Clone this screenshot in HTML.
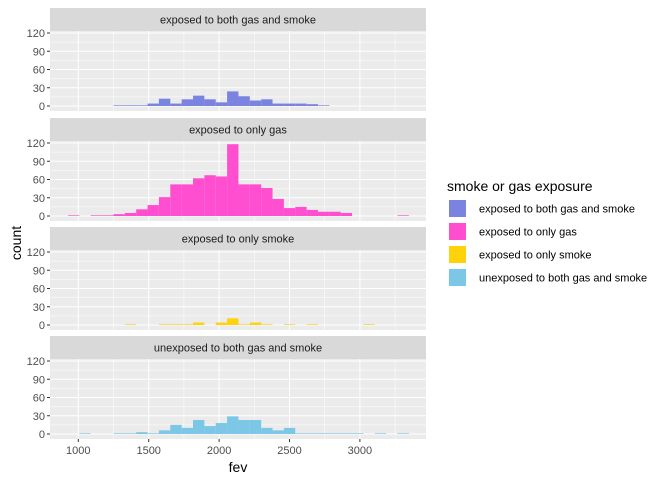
<!DOCTYPE html>
<html><head><meta charset="utf-8"><style>
body{margin:0;background:#fff;font-family:"Liberation Sans",sans-serif}
svg text{font-family:"Liberation Sans",sans-serif}
</style></head><body>
<svg id="chart" width="672" height="480" xmlns="http://www.w3.org/2000/svg"></svg>
<script>
const panelTitles = ["exposed to both gas and smoke","exposed to only gas","exposed to only smoke","unexposed to both gas and smoke"];
const panelColors = ["#7b83e0","#ff4fd0","#ffd20a","#7cc6e6"];
const binStart = 927;
const binWidth = 80.7;
const countsBoth = [0,0,0,0,1,1,1,4,12,4,11,17,11,6,24,16,9,11,4,4,4,3,1,0,0,0,0,0,0,0];
const countsGas = [1,0,1,1,3,5,11,18,31,52,52,62,67,65,118,52,52,46,28,13,15,10,7,7,5,0,0,0,0,1];
const countsSmoke = [0,0,0,0,0,1,0,0,1,1,1,4,0,4,11,1,4,1,0,1,0,1,0,0,0,0,1,0,0,0];
const countsNone = [0,1,0,0,1,1,3,1,6,15,10,23,13,18,29,23,23,10,6,10,1,1,1,1,1,1,0,1,0,1];
const xTicks = [1000,1500,2000,2500,3000];
const yTicks = [0,30,60,90,120];
const allCounts = [countsBoth,countsGas,countsSmoke,countsNone];

const NS="http://www.w3.org/2000/svg";
const svg=document.getElementById('chart');
function mk(tag,attrs,parent){const e=document.createElementNS(NS,tag);for(const k in attrs)e.setAttribute(k,attrs[k]);(parent||svg).appendChild(e);return e;}
const L=50,R=426;
const xScale=v=>78.3+(v-1000)*0.1408;
const stripTops=[8,118,227,336];
allCounts.forEach((counts,p)=>{
  const g=mk('g',{});
  
  
  const st=stripTops[p], top=st+23, bot=top+80;
  const zero=bot-5;
  const yScale=c=>zero-c*73/120;
  const strip=mk('rect',{x:L,y:st,width:R-L,height:23,fill:'#d9d9d9'},g);
  
  
  const stt=mk('text',{x:(L+R)/2,y:st+15.5,'text-anchor':'middle','font-size':'11',fill:'#1a1a1a'},g);
  stt.textContent=panelTitles[p];
  
  
  const bg=mk('rect',{x:L,y:top,width:R-L,height:bot-top,fill:'#ebebeb'},g);
  
  
  for(let i=0;i<yTicks.length-1;i++){const m=(yTicks[i]+yTicks[i+1])/2;mk('line',{x1:L,x2:R,y1:yScale(m),y2:yScale(m),stroke:'#fff','stroke-width':0.5},g);}
  for(let i=0;i<xTicks.length-1;i++){const m=(xTicks[i]+xTicks[i+1])/2;mk('line',{x1:xScale(m),x2:xScale(m),y1:top,y2:bot,stroke:'#fff','stroke-width':0.5},g);}
  mk('line',{x1:xScale(750),x2:xScale(750),y1:top,y2:bot,stroke:'#fff','stroke-width':0.5},g);
  mk('line',{x1:xScale(3250),x2:xScale(3250),y1:top,y2:bot,stroke:'#fff','stroke-width':0.5},g);
  yTicks.forEach(t=>{
    mk('line',{x1:L,x2:R,y1:yScale(t),y2:yScale(t),stroke:'#fff','stroke-width':1},g);
    mk('line',{x1:L-3,x2:L,y1:yScale(t),y2:yScale(t),stroke:'#333','stroke-width':1},g);
    const tl=mk('text',{x:L-5,y:yScale(t)+4,'text-anchor':'end','font-size':'11',fill:'#4d4d4d'},g);
    tl.textContent=t;
    
    
  });
  xTicks.forEach(t=>mk('line',{x1:xScale(t),x2:xScale(t),y1:top,y2:bot,stroke:'#fff','stroke-width':1},g));
  counts.forEach((c,i)=>{
    if(c<=0)return;
    const x0=xScale(binStart+i*binWidth),x1=xScale(binStart+(i+1)*binWidth);
    const b=mk('rect',{x:x0,y:yScale(c),width:x1-x0,height:zero-yScale(c),fill:panelColors[p]},g);
    
    
  });
  if(p===3){
    xTicks.forEach(t=>{
      mk('line',{x1:xScale(t),x2:xScale(t),y1:bot,y2:bot+3,stroke:'#333'},g);
      const tl=mk('text',{x:xScale(t),y:bot+15,'text-anchor':'middle','font-size':'11',fill:'#4d4d4d'},g);
      tl.textContent=t;
      
      
    });
  }
});
const xt=mk('text',{x:(L+R)/2,y:472,'text-anchor':'middle','font-size':'14',fill:'#000'});
xt.textContent='fev';


const yt=mk('text',{x:0,y:0,transform:'translate(21,243) rotate(-90)','text-anchor':'middle','font-size':'14',fill:'#000'});
yt.textContent='count';


const lt=mk('text',{x:447,y:191,'font-size':'14',fill:'#000'});
lt.textContent='smoke or gas exposure';


panelTitles.forEach((name,i)=>{
  const y=200+i*23;
  const k=mk('rect',{x:449,y:y,width:17,height:17,fill:panelColors[i]});
  
  
  const t=mk('text',{x:479,y:y+12.5,'font-size':'11',fill:'#000'});
  t.textContent=name;
  
  
});
</script>
</body></html>
